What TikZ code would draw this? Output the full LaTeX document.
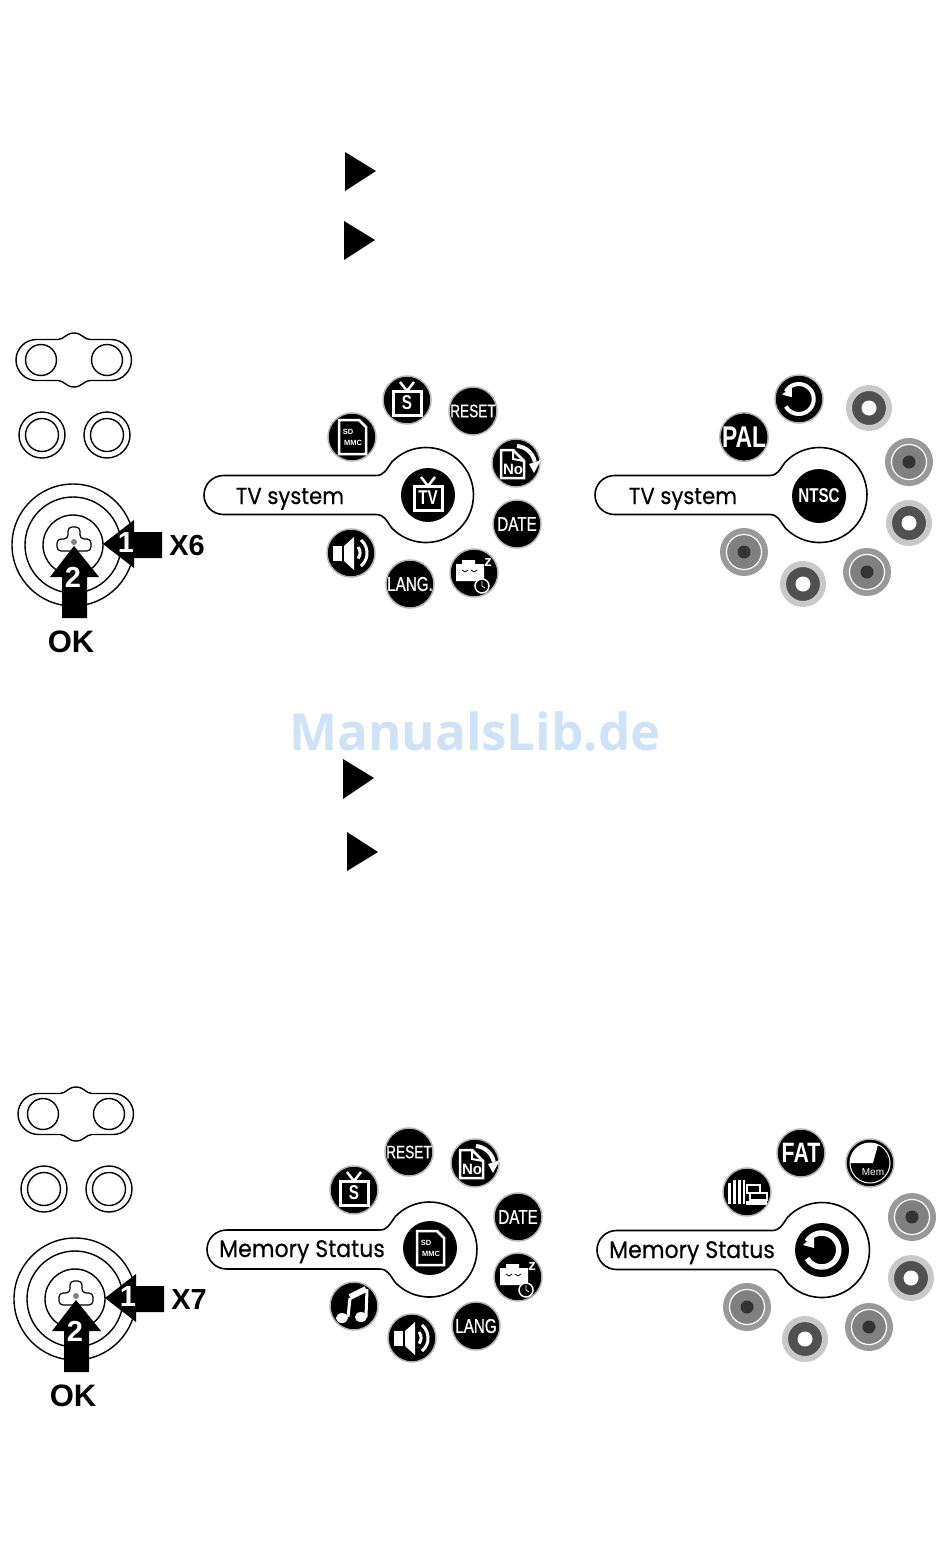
\documentclass[tikz,border=0pt]{standalone}
\usepackage{fontspec}
\setmainfont{Liberation Sans}
\newfontfamily\narrowfont[FakeStretch=0.76,UprightFeatures={FakeBold=0.7}]{Liberation Sans}
\newfontfamily\roundfont[FakeStretch=0.92,FakeBold=0.4]{Poppins}
\newfontfamily\markfont{Open Sans}
\definecolor{halo}{HTML}{B4B4B4}
\definecolor{offdark}{HTML}{505050}
\definecolor{offlight}{HTML}{C8C8C8}
\definecolor{ringgray}{HTML}{999999}
\definecolor{ringmid}{HTML}{808080}
\definecolor{ringcore}{HTML}{333333}
\definecolor{markblue}{HTML}{CFE2F8}
\newcommand\disksize[1]{\narrowfont\fontsize{#1}{#1}\selectfont}
\newcommand\iconTv[1]{
\draw[iconline,line width=2.5] (-7,-18) -- (0,-9) -- (7,-18);
\draw[iconline,line width=3] (-14,-9) rectangle (14,15);
\node[icontext,font=\narrowfont\bfseries\fontsize{20}{20}\selectfont] (\name t) at (0,3) {#1};
}
\newcommand\iconCard{
\draw[iconline,line width=2.5] (-13,-17) -- (7,-17) -- (14,-10) -- (14,17) -- (-13,17) -- cycle;
\node[icontext,font=\bfseries\fontsize{7.5}{7.5}\selectfont] (\name s) at (-4,-5) {SD};
\node[icontext,font=\bfseries\fontsize{7.5}{7.5}\selectfont] (\name m) at (1,6) {MMC};
}
\newcommand\iconNo{
\draw[iconline,line width=2.5] (-15,-13) -- (-3,-13) -- (8,-2) -- (8,15) -- (-15,15) -- cycle;
\draw[iconline] (-3,-13) -- (-3,-4) -- (8,-2);
\node[icontext,font=\bfseries\fontsize{15}{15}\selectfont] (\name t) at (-3,6) {No};
\draw[iconline,line width=4] (1,-17) arc[start angle=-85,end angle=-12,radius=20];
\fill[white] (13,1) -- (25,-3) -- (18,10) -- cycle;
}
\newcommand\iconSleep{
\fill[white] (-18,-9) -- (-12,-9) -- (-12,-13) -- (1,-13) -- (1,-9) -- (10,-9) -- (10,8) -- (-18,8) -- cycle;
\draw[black,line width=0.8] (-12,-3) -- (-9,-1) -- (-6,-3) (-3,-3) -- (0,-1) -- (3,-3);
\node[icontext,font=\bfseries\fontsize{15}{15}\selectfont] (\name z) at (14,-10) {z};
\draw[white,fill=black,line width=1.5] (8,13) circle (7);
\draw[white,line width=0.8] (8,8) -- (8,13) -- (11,15);
}
\newcommand\iconSpeaker{
\fill[white] (-18,-7) rectangle (-9,8);
\fill[white] (-7,-7) -- (3,-16) -- (3,17) -- (-7,8) -- cycle;
\draw[iconline,line width=3] (7,-6) arc[start angle=-40,end angle=40,radius=9];
\draw[iconline,line width=3] (10,-13) arc[start angle=-50,end angle=50,radius=17];
}
\newcommand\iconMusic{
\draw[iconline,line width=3] (-6,11) -- (-4,-8);
\draw[iconline,line width=3] (12,11) -- (13,-17);
\draw[iconline,line width=6] (-4,-9) -- (12,-17);
\fill[white] (-12,12) ellipse (6 and 5);
\fill[white] (7,11) ellipse (6 and 5);
}
\newcommand\iconUndo[2]{
\begin{scope}[scale=#1/17]
\draw[iconline,line width=#2] (-15,-8.5) arc[start angle=-150,end angle=150,radius=17];
\fill[white] (-19,-5) -- (-8,-15) -- (-8,-2) -- cycle;
\end{scope}
}
\newcommand\iconFiles{
\fill[white] (-19,-9) rectangle (-16,12);
\fill[white] (-14,-12) rectangle (-11,12);
\fill[white] (-9,-12) rectangle (-6,12);
\fill[white] (-4,-12) rectangle (-2,12);
\draw[iconline,line width=1.5,fill=black] (0,-7) rectangle (13,1);
\draw[iconline,line width=1.5,fill=black] (3,1) rectangle (20,8);
\fill[white] (-1,9) rectangle (20,13);
}
\newcommand\iconMem{
\draw[white,line width=1] (0,0) circle (20);
\fill[white] (-20,0) -- (3,0) -- (8,-18.4) arc[start angle=-66.5,end angle=-180,radius=20] -- cycle;
\node[icontext,font=\fontsize{10}{10}\selectfont] (\name t) at (3,9) {Mem};
}
\tikzset{
disk/.style={circle,fill=black,draw=halo,line width=1.5,minimum size=48,inner sep=0,text=white},
bigdisk/.style={circle,fill=black,minimum size=54,inner sep=0,text=white},
iconline/.style={draw=white,line width=2,line join=miter},
icontext/.style={text=white,inner sep=0},
offouter/.style={circle,fill=offdark,draw=offlight,line width=6,minimum size=40,inner sep=0},
offinner/.style={circle,fill=white,minimum size=15,inner sep=0},
ringouter/.style={circle,fill=ringmid,draw=ringgray,line width=6,minimum size=42,inner sep=0},
ringline/.style={circle,draw=white,line width=1.2,minimum size=35,inner sep=0},
ringinner/.style={circle,fill=ringcore,minimum size=13,inner sep=0},
bubble/.style={draw=black,line width=1.6,fill=white},
bubbletext/.style={inner sep=0,anchor=base},
padline/.style={draw=black,line width=1.4},
padtext/.style={inner sep=0,font=\bfseries\fontsize{31}{31}\selectfont},
numtext/.style={inner sep=0,text=white,font=\bfseries\fontsize{29}{29}\selectfont}
}
\begin{document}
\begin{tikzpicture}[x=1pt,y=-1pt]
\useasboundingbox (0,0) rectangle (950,1568);
\node[text=markblue,inner sep=0,font=\markfont\bfseries\fontsize{51}{51}\selectfont] (mark) at (475,731) {ManualsLib.de};
\foreach \name/\ax/\ay/\by/\cy in {
	t1/345/152/171/191,
	t2/344/221/240/260,
	t3/343/759/778/799,
	t4/347/832/852/871}
	\fill (\ax,\ay) -- (\ax+31,\by) -- (\ax,\cy) -- cycle;
\foreach \name/\point/\times in {
	a/{0,0}/X6,
	b/{2,754}/X7}
{
\begin{scope}[shift={(\point)}]
\draw[padline] (36.5,339.5) -- (58,339.5) .. controls (64,339.5) and (66,333) .. (74,333) .. controls (82,333) and (84,339.5) .. (90,339.5) -- (111,339.5) arc[start angle=-90,end angle=90,radius=20.5] -- (90,380.5) .. controls (84,380.5) and (82,387) .. (74,387) .. controls (66,387) and (64,380.5) .. (58,380.5) -- (36.5,380.5) arc[start angle=90,end angle=270,radius=20.5] -- cycle;
\draw[padline] (41,360) circle (15.5) (107,360) circle (15.5);
\draw[padline] (42,435) circle (23) (42,435) circle (16.5);
\draw[padline] (107,435) circle (23) (107,435) circle (16.5);
\draw[padline] (73,545) circle (61) (73,545) circle (48) (73,545) circle (30);
\draw[padline,line width=1.2,rounded corners=4] (68,539) -- (68,527) -- (80,527) -- (80,539) -- (91,539) -- (91,551) -- (57,551) -- (57,539) -- cycle;
\fill[gray] (74,542) circle (3);
\fill (103,544) -- (134,520) -- (134,532) -- (162,532) -- (162,558) -- (134,558) -- (134,568) -- cycle;
\fill (74,546) -- (99,577) -- (87,577) -- (87,618) -- (62,618) -- (62,577) -- (50,577) -- cycle;
\node[numtext] (\name one) at (126,543) {1};
\node[numtext] (\name two) at (73,577) {2};
\node[padtext,font=\bfseries\fontsize{29}{29}\selectfont] (\name times) at (187,546) {\times};
\node[padtext] (\name ok) at (71,642) {OK};
\end{scope}
}
\foreach \name/\point/\len/\txtpos/\size/\txt in {
	tvl/{426,495}/202.5/{290,504}/23/TV system,
	tvr/{819.5,495}/205/{683,504}/23/TV system,
	meml/{429.5,1249.5}/203/{302,1257}/24/Memory Status,
	memr/{822,1250}/205.5/{692,1258}/24/Memory Status}
{
\begin{scope}[shift={(\point)}]
\draw[bubble] (-\len,-19.5) -- (-50,-19.5) .. controls (-42,-19.5) and (-40,-25) .. (-34.2,-33) arc[start angle=-136,end angle=136,radius=47.5] .. controls (-40,25) and (-42,19.5) .. (-50,19.5) -- (-\len,19.5) arc[start angle=90,end angle=270,radius=19.5] -- cycle;
\end{scope}
\node[bubbletext,font=\roundfont\fontsize{\size}{\size}\selectfont] (\name txt) at (\txtpos) {\txt};
}
\foreach \name/\point/\txt/\size in {
	resa/{473,411}/RESET/18,
	dta/{517,524}/DATE/20,
	lnga/{410,584}/LANG./20,
	pal/{744,437}/\bfseries PAL/30,
	resb/{409,1152}/RESET/18,
	dtb/{518,1217}/DATE/20,
	lngb/{476,1326}/LANG/20,
	fat/{801,1153}/\bfseries FAT/28}
	\node[disk,font=\disksize{\size}] (\name) at (\point) {\raisebox{-1.5pt}{\txt}};
\node[bigdisk,font=\disksize{20}\bfseries] (ntsc) at (819,496) {NTSC};
\foreach \name/\point/\icon in {
	carda/{352,437}/\iconCard,
	tvsa/{407,400}/\iconTv{S},
	noa/{516,463}/\iconNo,
	slpa/{474,573}/\iconSleep,
	spka/{351,553}/\iconSpeaker,
	undoa/{799,399}/\iconUndo{15}{4},
	tvsb/{354,1190}/\iconTv{S},
	nob/{475,1163}/\iconNo,
	slpb/{518,1277}/\iconSleep,
	spkb/{412,1338}/\iconSpeaker,
	music/{354,1306}/\iconMusic,
	files/{747,1192}/\iconFiles,
	mem/{870,1163}/\iconMem}
{
\node[disk] (\name) at (\point) {};
\begin{scope}[shift={(\point)}]
\icon
\end{scope}
}
\foreach \name/\point/\icon in {
	tvc/{428,495}/\iconTv{TV},
	cardc/{430,1248}/\iconCard,
	undoc/{822,1250}/\iconUndo{17}{5.5}}
{
\node[bigdisk] (\name) at (\point) {};
\begin{scope}[shift={(\point)}]
\icon
\end{scope}
}
\foreach \name/\point in {
	o1/{869,408},
	o2/{909,523},
	o3/{803,584},
	o4/{911,1278},
	o5/{805,1339}}
{
\node[offouter] (\name) at (\point) {};
\node[offinner] (\name c) at (\point) {};
}
\foreach \name/\point in {
	r1/{909,462},
	r2/{867,572},
	r3/{744,552},
	r4/{912,1217},
	r5/{869,1327},
	r6/{747,1307}}
{
\node[ringouter] (\name) at (\point) {};
\node[ringline] (\name l) at (\point) {};
\node[ringinner] (\name c) at (\point) {};
}
\end{tikzpicture}
\end{document}
